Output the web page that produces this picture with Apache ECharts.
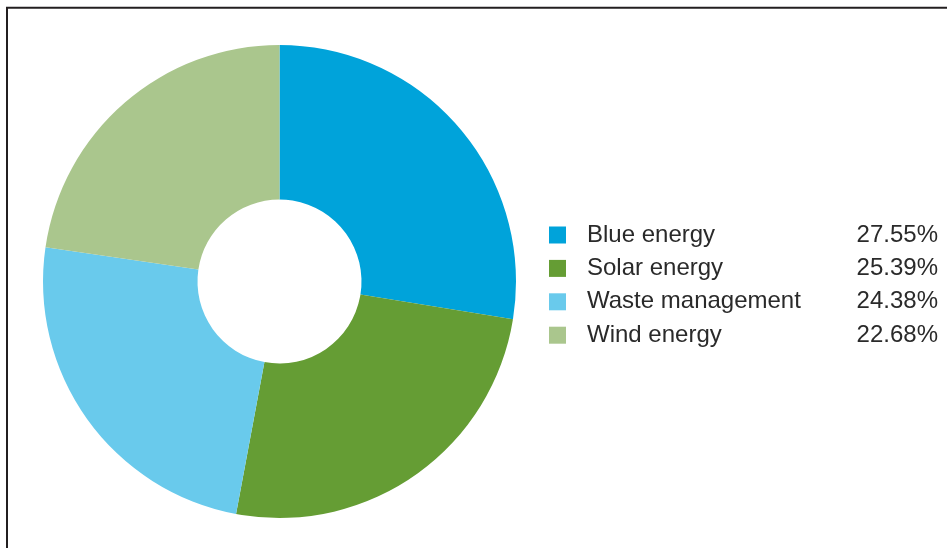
<!DOCTYPE html>
<html>
<head>
<meta charset="utf-8">
<script src="https://cdn.jsdelivr.net/npm/echarts@6/dist/echarts.min.js"></script>
<style>
html,body{margin:0;padding:0;background:#fff;}
#chart{width:947px;height:548px;}
</style>
</head>
<body>
<div id="chart"></div>
<script>
var categories = ['Blue energy', 'Solar energy', 'Waste management', 'Wind energy'];
var shares = [27.55, 25.39, 24.38, 22.68];
var colors = ['#00A3DA', '#659D34', '#69CAEC', '#AAC68D'];

var chart = echarts.init(document.getElementById('chart'), null, {renderer: 'canvas'});
var data = categories.map(function (c, i) {
  return {name: c, value: shares[i], itemStyle: {color: colors[i]}};
});
var textFont = 'Liberation Sans';
chart.setOption({
  animation: false,
  backgroundColor: '#ffffff',
  graphic: [
    {type: 'line', shape: {x1: 6, y1: 7.7, x2: 947, y2: 7.7}, style: {stroke: '#231f20', lineWidth: 2}},
    {type: 'line', shape: {x1: 7, y1: 7, x2: 7, y2: 548}, style: {stroke: '#231f20', lineWidth: 2}}
  ],
  legend: {
    orient: 'vertical',
    left: 549,
    top: 223,
    padding: 0,
    itemWidth: 17,
    itemHeight: 17,
    itemGap: 9.4,
    icon: 'rect',
    selectedMode: false,
    data: categories,
    formatter: function (name) {
      var i = categories.indexOf(name);
      return '{n|' + name + '}{v|' + shares[i].toFixed(2) + '%}';
    },
    textStyle: {
      color: '#2a2a2a',
      fontFamily: textFont,
      fontSize: 24,
      rich: {
        n: {width: 270, padding: [0, 0, 0, 16], fontFamily: textFont, fontSize: 24, color: '#2a2a2a'},
        v: {width: 81, align: 'right', fontFamily: textFont, fontSize: 24, color: '#2a2a2a'}
      }
    }
  },
  series: [{
    type: 'pie',
    center: [279.5, 281.5],
    radius: [82, 236.5],
    startAngle: 90,
    clockwise: true,
    label: {show: false},
    labelLine: {show: false},
    emphasis: {disabled: true},
    itemStyle: {borderWidth: 0},
    data: data
  }]
});
</script>
</body>
</html>
